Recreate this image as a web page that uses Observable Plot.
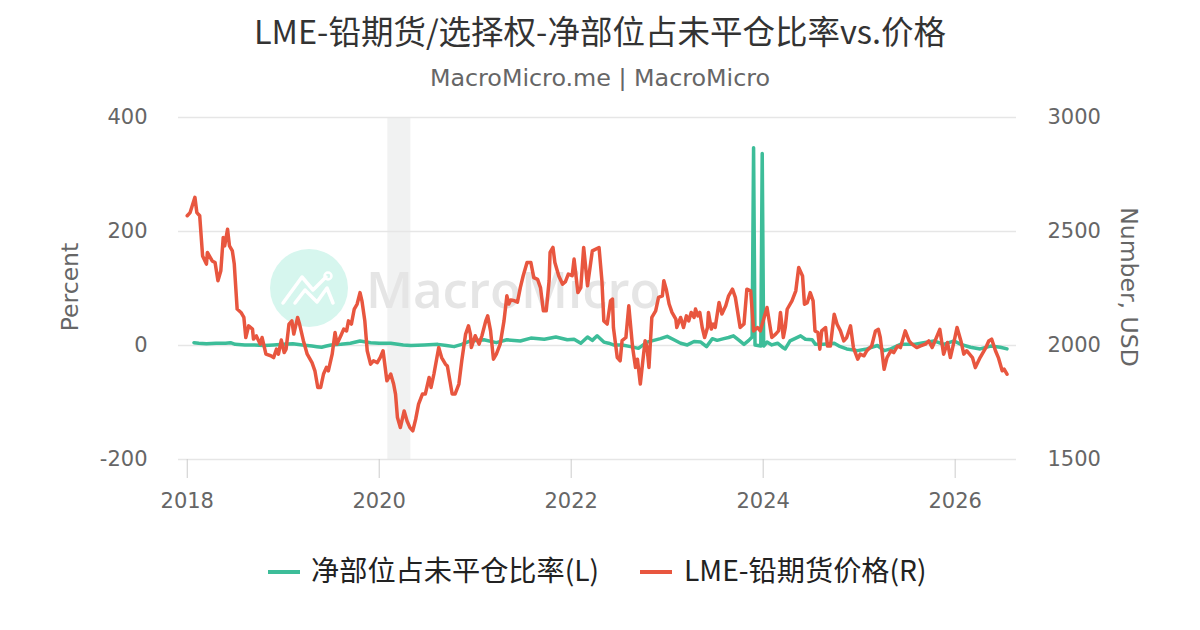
<!DOCTYPE html>
<html>
<head>
<meta charset="utf-8">
<script src="https://cdn.jsdelivr.net/npm/d3@7"></script>
<script src="https://cdn.jsdelivr.net/npm/@observablehq/plot@0.6"></script>
<style>
  html, body { margin: 0; padding: 0; background: #fff; }
  #wrap { position: relative; width: 1200px; height: 630px; overflow: hidden; background: #fff; }
  .t { position: absolute; left: 0; width: 1200px; text-align: center; white-space: nowrap; }
  #title { top: 9px; font-family: "Noto Sans CJK SC", sans-serif; font-size: 32.5px; line-height: 42px; color: #333; }
  #subtitle { top: 63px; font-family: "DejaVu Sans", sans-serif; font-size: 23.8px; line-height: 30px; color: #666; }
  #chart { position: absolute; left: 0; top: 95px; }
  .ax { position: absolute; font-family: "DejaVu Sans", sans-serif; font-size: 23.5px; color: #666; white-space: nowrap; line-height: 26px; }
  #legend { position: absolute; top: 548px; left: 0; width: 1200px; height: 42px; font-family: "Noto Sans CJK SC", sans-serif; font-size: 28.2px; color: #222; }
  .li { position: absolute; top: 0; line-height: 42px; white-space: nowrap; }
  .sw { position: absolute; top: 22px; height: 4px; }
</style>
</head>
<body>
<div id="wrap">
  <div id="title" class="t">LME-铅期货/选择权-净部位占未平仓比率vs.价格</div>
  <div id="subtitle" class="t">MacroMicro.me | MacroMicro</div>
  <div id="chart"></div>
  <div class="ax" id="ylab" style="left:70px; top:287px; transform: translate(-50%,-50%) rotate(-90deg);">Percent</div>
  <div class="ax" id="y2lab" style="left:1129px; top:287px; transform: translate(-50%,-50%) rotate(90deg);">Number, USD</div>
  <div id="legend">
    <div class="sw" style="left:268px; width:32px; background:#3dbd99;"></div>
    <div class="li" style="left:311px;">净部位占未平仓比率(L)</div>
    <div class="sw" style="left:640px; width:32px; background:#e8563f;"></div>
    <div class="li" style="left:684px;">LME-铅期货价格(R)</div>
  </div>
</div>
<script>
// ---------- data (decimal years) ----------
const ratioYears = [
  2018.07,2018.12,2018.20,2018.30,2018.40,2018.45,2018.50,2018.60,2018.70,2018.80,2018.90,
  2019.00,2019.10,2019.20,2019.30,2019.35,2019.40,2019.45,2019.50,2019.60,2019.70,2019.80,2019.91,
  2020.00,2020.12,2020.25,2020.33,2020.47,2020.61,2020.70,2020.78,2020.86,2020.95,
  2021.09,2021.22,2021.33,2021.47,2021.58,2021.72,2021.84,2021.96,
  2022.03,2022.10,2022.17,2022.22,2022.27,2022.34,2022.39,2022.44,2022.53,2022.62,2022.70,2022.79,2022.86,2022.93,
  2023.00,2023.07,2023.14,2023.21,2023.28,2023.35,2023.41,2023.47,2023.52,2023.59,2023.64,2023.69,2023.75,2023.80,2023.85,
  2023.885,2023.90,2023.915,2023.975,2023.99,2024.005,
  2024.04,2024.09,2024.15,2024.20,2024.23,2024.28,2024.39,2024.44,2024.51,2024.545,2024.63,2024.74,2024.79,2024.87,2024.98,
  2025.08,2025.19,2025.26,2025.33,2025.43,2025.57,2025.67,2025.78,2025.88,2025.99,
  2026.06,2026.16,2026.26,2026.37,2026.47,2026.54
];
const ratioValues = [
  5,4,3,4,4,5,2,1,1,0,1,
  2,3,1,-1,-2,-3,-1,1,2,4,8,5,
  4,4,1,0,1,2,0,-2,2,8,
  10,5,10,8,13,11,15,10,
  11,4,15,9,17,6,4,1,1,-2,-5,6,9,12,
  16,10,4,1,7,6,-2,12,9,12,14,17,9,2,9,
  15,347,1,-1,337,-1,
  6,1,4,-3,-6,8,17,11,10,2,2,4,-1,-6,-9,
  -6,0,-9,-6,2,2,5,8,2,8,
  2,-3,-6,-1,-3,-6
];

const priceYears = [
  2018.00,2018.03,2018.08,2018.10,2018.13,2018.16,2018.20,2018.21,2018.26,2018.29,2018.32,2018.35,2018.375,2018.39,2018.42,2018.44,2018.47,2018.49,
  2018.52,2018.56,2018.59,2018.61,2018.64,2018.68,2018.69,2018.72,2018.76,2018.78,2018.82,2018.87,2018.90,2018.93,2018.95,2018.98,
  2019.01,2019.03,2019.06,2019.09,2019.11,2019.15,2019.17,2019.21,2019.25,2019.30,2019.33,2019.36,2019.39,2019.42,2019.45,2019.47,
  2019.51,2019.54,2019.56,2019.60,2019.63,2019.66,2019.68,2019.71,2019.74,2019.77,2019.80,2019.82,2019.85,2019.875,2019.91,2019.94,2019.98,
  2020.01,2020.04,2020.08,2020.12,2020.15,2020.17,2020.19,2020.22,2020.26,2020.29,2020.32,2020.35,2020.38,2020.41,2020.45,2020.48,
  2020.52,2020.54,2020.57,2020.62,2020.65,2020.69,2020.71,2020.76,2020.79,2020.83,2020.86,2020.90,2020.93,2020.95,2020.96,
  2021.00,2021.04,2021.07,2021.11,2021.13,2021.16,2021.19,2021.22,2021.26,2021.30,2021.33,2021.35,2021.37,2021.41,2021.44,2021.47,
  2021.50,2021.54,2021.58,2021.61,2021.65,2021.68,2021.71,2021.74,2021.77,2021.78,2021.81,2021.83,2021.87,2021.91,2021.94,2021.97,
  2022.01,2022.03,2022.07,2022.10,2022.13,2022.17,2022.22,2022.29,2022.32,2022.34,2022.375,2022.41,2022.43,2022.44,2022.48,
  2022.51,2022.53,2022.57,2022.60,2022.64,2022.67,2022.69,2022.72,2022.75,2022.77,2022.79,2022.81,2022.84,2022.88,2022.91,2022.95,2022.965,2022.99,
  2023.02,2023.05,2023.09,2023.10,2023.14,2023.17,2023.20,2023.225,2023.25,2023.28,2023.295,2023.32,2023.34,2023.365,2023.39,2023.42,2023.43,2023.46,2023.48,
  2023.50,2023.54,2023.57,2023.61,2023.64,2023.68,2023.71,2023.76,2023.80,2023.83,2023.87,2023.90,2023.94,2023.97,
  2024.01,2024.04,2024.09,2024.13,2024.16,2024.18,2024.21,2024.23,2024.25,2024.30,2024.34,2024.37,2024.41,2024.43,2024.46,2024.49,
  2024.52,2024.54,2024.57,2024.59,2024.61,2024.65,2024.67,2024.70,2024.74,2024.77,2024.805,2024.84,2024.87,2024.91,2024.94,2024.985,
  2025.01,2025.05,2025.08,2025.13,2025.17,2025.20,2025.22,2025.26,2025.29,2025.33,2025.36,2025.40,2025.43,2025.48,
  2025.52,2025.55,2025.60,2025.64,2025.69,2025.725,2025.76,2025.79,2025.84,2025.88,2025.92,2025.95,2025.99,
  2026.02,2026.06,2026.09,2026.12,2026.18,2026.21,2026.26,2026.32,2026.35,2026.38,2026.42,2026.45,2026.49,2026.51,2026.54
];
const priceValues = [
  2569,2583,2650,2583,2569,2393,2357,2408,2371,2364,2284,2328,2474,2437,2510,2437,2415,2357,
  2160,2145,2123,2035,2086,2072,2028,2042,2006,2035,1962,1955,1947,1984,1962,2024,
  1969,1984,2094,2108,2050,2123,2094,2021,1962,1925,1889,1816,1816,1875,1904,1889,
  1962,2057,2006,2043,2072,2064,2108,2094,2160,2182,2232,2196,2108,1977,1918,1933,1925,
  1947,1977,1845,1875,1831,1787,1684,1640,1713,1669,1640,1626,1677,1743,1787,1787,
  1860,1816,1875,1991,1947,1918,1910,1787,1787,1831,1933,2050,2086,2050,1991,
  2043,2006,2043,2108,2130,2064,1940,1962,2006,2108,2218,2182,2200,2196,2190,2254,
  2306,2364,2364,2298,2290,2254,2152,2152,2284,2408,2430,2364,2306,2269,2280,2313,
  2306,2379,2232,2254,2430,2262,2415,2430,2284,2108,2094,2196,2204,2079,1947,
  1933,2021,2035,2174,1991,1904,1940,1831,1947,2021,1991,1904,2123,2152,2211,2218,2284,2247,
  2182,2145,2116,2079,2123,2079,2130,2108,2145,2123,2160,2130,2145,2079,2035,2079,2145,2072,2094,
  2079,2189,2138,2174,2218,2247,2211,2079,2094,2247,2240,2064,2079,2064,
  2123,2167,2035,2050,2064,2145,2035,2079,2159,2196,2240,2342,2305,2181,2188,2232,
  2196,2064,2057,1984,2064,2079,1998,1998,2137,2093,2064,2020,2035,2086,1991,1940,
  1962,1955,1977,1998,2064,2071,2035,1896,1947,1977,1969,1998,1991,2064,
  2020,2006,1991,1998,2006,2020,1991,2020,2071,1962,2013,1947,2020,
  2079,2020,1962,1977,1947,1903,1947,1991,2020,2028,1977,1947,1889,1896,1874
];

const recessionStart = [2020.09];
const recessionEnd = [2020.33];

const leftTicks = [-200, 0, 200, 400];
const rightTicks = [1500, 2000, 2500, 3000];
const xTicks = [2018, 2020, 2022, 2024, 2026];
const xDomain = [2017.909, 2026.639];

// price mapped onto the left (percent) scale: 1500..3000 -> -200..400
const toLeft = p => (p - 2000) * 0.4;
const fromLeft = v => v / 0.4 + 2000;

const ratio = ratioYears.map((t, i) => ({t, v: ratioValues[i]}));
const price = priceYears.map((t, i) => ({t, v: toLeft(priceValues[i])}));
const recession = recessionStart.map((s, i) => ({s, e: recessionEnd[i]}));

const GREEN = "#3dbd99", RED = "#e8563f";

const chart = Plot.plot({
  width: 1200,
  height: 435,
  marginLeft: 178,
  marginRight: 184,
  marginTop: 22,
  marginBottom: 71,
  style: {background: "transparent", color: "#666"},
  x: {type: "linear", domain: xDomain},
  y: {domain: [-200, 400]},
  marks: [
    Plot.rect(recession, {x1: "s", x2: "e", fill: "#f1f2f2"}),
    Plot.gridY(leftTicks, {stroke: "#e6e6e6", strokeOpacity: 1, strokeWidth: 1.5}),
    Plot.axisY(leftTicks, {anchor: "left", tickSize: 0, tickPadding: 31, fontSize: 21, label: null,
      tickFormat: d => String(d)}),
    Plot.axisY(rightTicks.map(toLeft), {anchor: "right", tickSize: 0, tickPadding: 31, fontSize: 21, label: null,
      tickFormat: d => String(Math.round(fromLeft(d)))}),
    Plot.axisX(xTicks, {anchor: "bottom", tickSize: 19, tickPadding: 15, fontSize: 21, label: null,
      stroke: "#cccccc", tickFormat: d => String(d)}),
    Plot.line(ratio, {x: "t", y: "v", stroke: GREEN, strokeWidth: 3.5, strokeLinejoin: "round"}),
    Plot.line(price, {x: "t", y: "v", stroke: RED, strokeWidth: 3.5, strokeLinejoin: "round"})
  ]
});
chart.setAttribute("font-family", "DejaVu Sans, sans-serif");
chart.style.fontFamily = "'DejaVu Sans', sans-serif";
document.getElementById("chart").appendChild(chart);

// watermark, inserted beneath the data lines
const firstLine = chart.querySelector('g[aria-label="line"]');
const wm = document.createElementNS("http://www.w3.org/2000/svg", "g");
chart.insertBefore(wm, firstLine);
const g = d3.select(wm).attr("pointer-events", "none");
g.append("circle").attr("cx", 309).attr("cy", 193).attr("r", 39).attr("fill", "#d6f6ee");
g.append("polyline").attr("points", "283,208 302,182 313,195 326,182")
  .attr("fill", "none").attr("stroke", "#fff").attr("stroke-width", 3.5).attr("stroke-linecap", "round").attr("stroke-linejoin", "round");
g.append("polyline").attr("points", "295,208 305,195 317,207 327,193 333,208")
  .attr("fill", "none").attr("stroke", "#fff").attr("stroke-width", 3.5).attr("stroke-linecap", "round").attr("stroke-linejoin", "round");
g.append("circle").attr("cx", 328).attr("cy", 181).attr("r", 3.5).attr("fill", "none").attr("stroke", "#fff").attr("stroke-width", 2.5);
g.append("text").attr("x", 366).attr("y", 213).attr("text-anchor", "start")
  .attr("font-family", "Open Sans, sans-serif").attr("font-weight", 600)
  .attr("font-size", 51).attr("fill", "#e5e5e5").text("MacroMicro");
</script>
</body>
</html>
